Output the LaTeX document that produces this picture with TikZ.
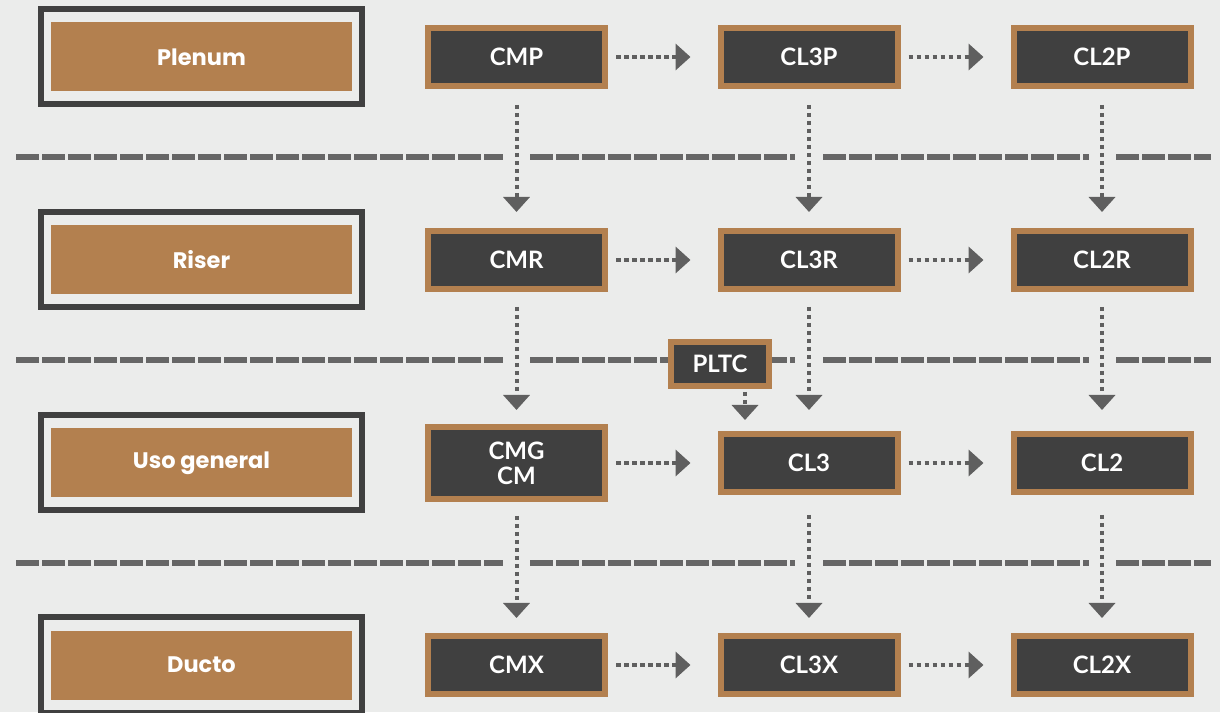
\documentclass[tikz,border=0pt]{standalone}
\usepackage{fontspec}
\setmainfont{Lato}
\newfontfamily\catfont{Poppins}
\usetikzlibrary{arrows.meta}
\definecolor{bggray}{HTML}{EBECEB}
\definecolor{copper}{HTML}{B3804F}
\definecolor{charcoal}{HTML}{404040}
\definecolor{arrowgray}{HTML}{5F5F5F}
\definecolor{linegray}{HTML}{666666}

\tikzset{
  catframe/.style={draw=charcoal, line width=6pt, minimum width=321pt, minimum height=95pt, inner sep=0pt},
  catlabel/.style={fill=copper, minimum width=301pt, minimum height=69pt, inner sep=0pt,
    text=white, font=\catfont\bfseries\fontsize{22.5}{26}\selectfont},
  cable/.style={draw=copper, fill=charcoal, line width=6pt, minimum width=177pt, minimum height=58pt,
    inner sep=0pt, text=white, align=center, font=\bfseries\fontsize{24}{25}\selectfont},
  flow/.style={draw=arrowgray, line width=4pt, dash pattern=on 4.5pt off 3.5pt,
    -{Triangle[width=26pt,length=15pt]}},
  sepline/.style={draw=linegray, line width=5.5pt, dash pattern=on 23pt off 3pt},
}

\begin{document}
\begin{tikzpicture}[x=1pt,y=1pt]
  \useasboundingbox (0,0) rectangle (1220,712);
  \fill[bggray] (0,0) rectangle (1220,712);

  % Separators between the rows (gaps left for the vertical arrows)
  \foreach \y in {555,352,149}{
    \foreach \xa/\xb in {16/503, 530/795, 823/1089, 1116/1211}
      \draw[sepline] (\xa,\y) -- (\xb,\y);
  }

  % Categories on the left
  \foreach \nm/\txt/\y in {plenum/Plenum/655, riser/Riser/452, uso/Uso general/249, ducto/Ducto/47}{
    \node[catframe] (\nm-f) at (201.5,\y) {};
    \node[catlabel] (\nm) at (\nm-f) {\txt};
  }

  % Cable types
  \foreach \nm/\txt/\x/\y in {
    cmp/CMP/516.5/655, cl3p/CL3P/809/655, cl2p/CL2P/1102/655,
    cmr/CMR/516.5/452, cl3r/CL3R/809/452, cl2r/CL2R/1102/452,
    cl3/CL3/809/249, cl2/CL2/1102/249,
    cmx/CMX/516.5/47, cl3x/CL3X/809/47, cl2x/CL2X/1102/47%
  }{
    \node[cable] (\nm) at (\x,\y) {\txt};
  }
  \node[cable, minimum height=72pt] (cmg) at (516.5,249) {CMG\\CM};
  \node[cable, minimum width=98pt, minimum height=44pt] (pltc) at (720,348) {PLTC};

  % Substitutions along a row
  \foreach \a/\b in {cmp/cl3p, cl3p/cl2p, cmr/cl3r, cl3r/cl2r, cmg/cl3, cl3/cl2, cmx/cl3x, cl3x/cl2x}
    \draw[flow, shorten <=8pt, shorten >=27pt] (\a) -- (\b);

  % Substitutions down a column
  \foreach \a/\b/\s/\e in {
    cmp/cmr/16/16, cl3p/cl3r/16/16, cl2p/cl2r/16/16,
    cmr/cmg/15/14, cl3r/cl3/15/21, cl2r/cl2/15/21,
    cmg/cmx/14/15, cl3/cl3x/20/15, cl2/cl2x/20/15%
  }{
    \draw[flow, shorten <=\s pt, shorten >=\e pt] (\a) -- (\b);
  }
  \draw[flow, shorten <=3pt, shorten >=11pt] ([xshift=25pt]pltc.south) -- ([xshift=25pt]pltc.south |- cl3.north);
\end{tikzpicture}
\end{document}
